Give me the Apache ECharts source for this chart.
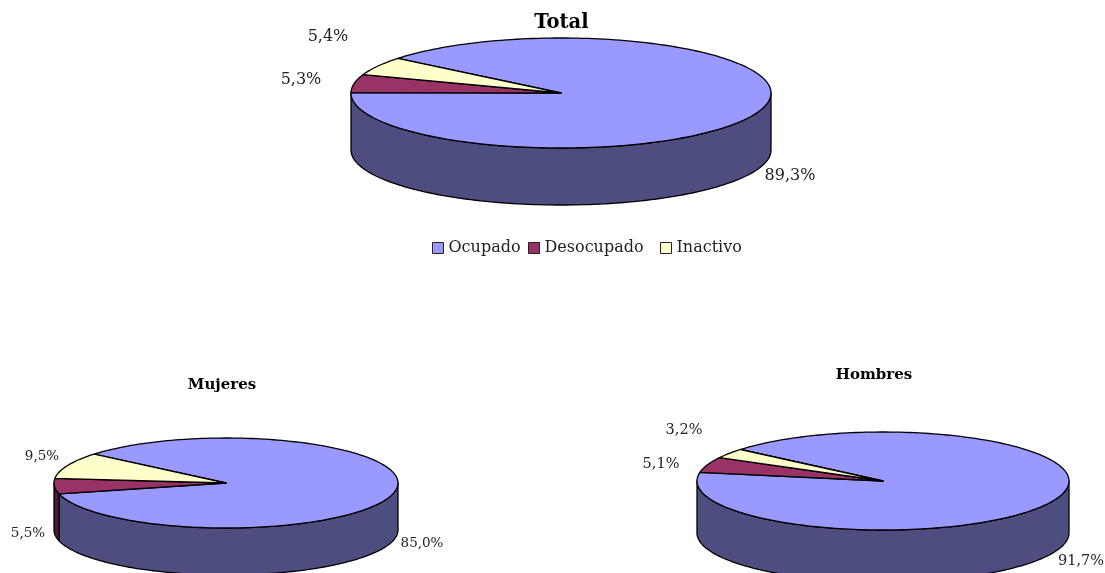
<!DOCTYPE html>
<html>
<head>
<meta charset="utf-8">
<style>html,body{margin:0;padding:0;background:#fff}#c{width:1105px;height:573px}</style>
<script src="https://cdn.jsdelivr.net/npm/echarts@6/dist/echarts.min.js"></script>
</head>
<body>
<div id="c"></div>
<script>
const panels = ['Total', 'Mujeres', 'Hombres'];
const ocupado = [89.3, 85.0, 91.7];
const desocupado = [5.3, 5.5, 5.1];
const inactivo = [5.4, 9.5, 3.2];
const seriesNames = ['Ocupado', 'Desocupado', 'Inactivo'];
const seriesValues = [ocupado, desocupado, inactivo];

// Layout (not data)
const FONT = '"DejaVu Serif", serif';
const pieLayout = [
  { cx: 561, cy: 93, rx: 210, ry: 55, depth: 57, start: 141, font: 16 },
  { cx: 226, cy: 483, rx: 172, ry: 45, depth: 47, start: 140, font: 13.5 },
  { cx: 883, cy: 481, rx: 186, ry: 49, depth: 52, start: 140, font: 14.5 }
];
const labelLayout = [
  [[790, 176], [301, 80], [328, 37]],
  [[422, 543], [28, 533], [42, 456]],
  [[1081, 561], [661, 464], [684, 430]]
];
const titleLayout = [
  { x: 561.5, y: 13, size: 19.5 },
  { x: 222, y: 378, size: 15 },
  { x: 874, y: 368, size: 15 }
];
const legendLeft = [432, 528, 660];
const topColors = ['#9999FF', '#993366', '#FFFFCC'];
const sideColors = ['#4D4D80', '#4D1A33', '#808066'];

function arcPoints(p, from, to, dy) {
  const pts = [];
  const n = Math.max(2, Math.ceil(Math.abs(from - to) / 1.5));
  for (let i = 0; i <= n; i++) {
    const a = (from + (to - from) * i / n) * Math.PI / 180;
    pts.push([p.cx + p.rx * Math.cos(a), p.cy - p.ry * Math.sin(a) + dy]);
  }
  return pts;
}

function makeRenderItem(sIdx) {
  return function (params, api) {
    const panel = params.dataIndex;
    const p = pieLayout[panel];
    const value = api.value(0);
    let offset = 0;
    for (let i = 0; i < sIdx; i++) offset += seriesValues[i][panel];
    const from = p.start - offset * 3.6;
    const to = from - value * 3.6;
    const children = [];
    const line = { stroke: '#000', lineWidth: 1.3, lineJoin: 'round' };
    // visible wall: the part of the slice on the front half of the ellipse
    for (let k = -2; k <= 0; k++) {
      const lo = Math.max(to, 180 + 360 * k);
      const hi = Math.min(from, 360 + 360 * k);
      if (hi > lo) {
        const upper = arcPoints(p, hi, lo, 0);
        const lower = arcPoints(p, lo, hi, p.depth);
        children.push({
          type: 'polygon',
          shape: { points: upper.concat(lower) },
          style: Object.assign({ fill: sideColors[sIdx] }, line)
        });
      }
    }
    // top face
    children.push({
      type: 'polygon',
      shape: { points: [[p.cx, p.cy]].concat(arcPoints(p, from, to, 0)) },
      style: Object.assign({ fill: topColors[sIdx] }, line)
    });
    // value label
    const pos = labelLayout[panel][sIdx];
    children.push({
      type: 'text',
      z2: 10,
      style: {
        x: pos[0], y: pos[1],
        text: value.toFixed(1).replace('.', ',') + '%',
        align: 'center', verticalAlign: 'middle',
        font: p.font + 'px ' + FONT,
        fill: '#222'
      }
    });
    return { type: 'group', children };
  };
}

const chart = echarts.init(document.getElementById('c'));
chart.setOption({
  animation: false,
  backgroundColor: '#fff',
  title: panels.map((t, i) => ({
    text: t,
    left: titleLayout[i].x,
    top: titleLayout[i].y,
    padding: 0,
    textAlign: 'center',
    textStyle: { fontFamily: FONT, fontWeight: 'bold', fontSize: titleLayout[i].size, color: '#000' }
  })),
  legend: seriesNames.map((name, i) => ({
    left: legendLeft[i],
    top: 240,
    icon: 'rect',
    itemWidth: 11,
    itemHeight: 11,
    padding: 0,
    data: [name],
    itemStyle: { borderColor: '#222', borderWidth: 1 },
    textStyle: { fontFamily: FONT, fontSize: 16, color: '#222' }
  })),
  series: seriesNames.map((name, s) => ({
    type: 'custom',
    name,
    coordinateSystem: 'none',
    clip: false,
    silent: true,
    itemStyle: { color: topColors[s] },
    data: seriesValues[s].map(v => [v]),
    renderItem: makeRenderItem(s)
  }))
});
</script>
</body>
</html>
